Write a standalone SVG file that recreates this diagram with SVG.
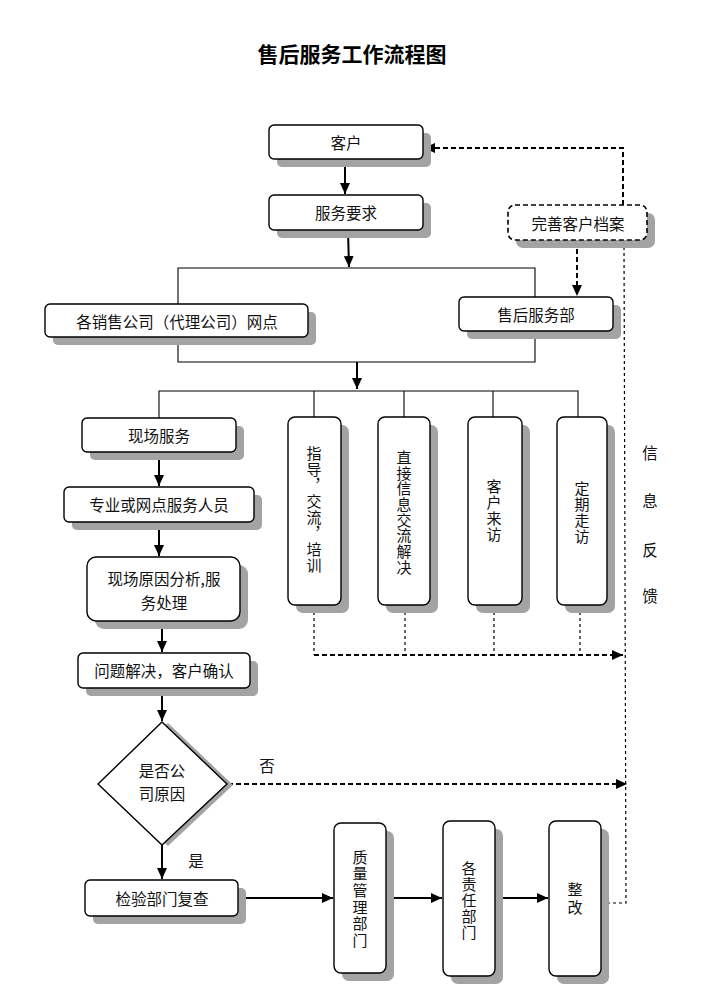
<svg xmlns="http://www.w3.org/2000/svg" width="725" height="1008" viewBox="0 0 725 1008">
<style>
  .bg{fill:#ffffff}
  .box{fill:#ffffff;stroke:#000;stroke-width:1.4}
  .dbox{fill:#ffffff;stroke:#000;stroke-width:1.6;stroke-dasharray:5 3}
  .sh{fill:#a3a3a3}
  .t{font-family:"Noto Sans CJK SC","Liberation Serif",serif;font-size:15.5px;fill:#111;text-anchor:middle;dominant-baseline:central}
  .tv{font-family:"Noto Sans CJK SC","Liberation Serif",serif;font-size:15px;fill:#111;text-anchor:middle;writing-mode:vertical-rl}
  .title{font-family:"Noto Sans CJK SC","Liberation Sans",sans-serif;font-size:21px;font-weight:bold;fill:#000;text-anchor:middle;dominant-baseline:central}
  .ln{fill:none;stroke:#000;stroke-width:1.1}
  .ar{fill:none;stroke:#000;stroke-width:2}
  .dt{fill:none;stroke:#000;stroke-width:2;stroke-dasharray:5 3}
  .dn{fill:none;stroke:#000;stroke-width:1.2;stroke-dasharray:3 3}
</style>
<defs>
  <marker id="ah" markerUnits="userSpaceOnUse" markerWidth="12" markerHeight="10" refX="11" refY="5" orient="auto">
    <path d="M0,0 L11,5 L0,10 Z" fill="#000"/>
  </marker>
</defs>
<rect class="bg" x="0" y="0" width="725" height="1008"/>
<text class="title" x="352" y="53">售后服务工作流程图</text>

<g id="connectors">
  <path class="ar" d="M345,159 V194" marker-end="url(#ah)"/>
  <path class="ar" d="M348,230 L349,267" marker-end="url(#ah)"/>
  <path class="ln" d="M178,304 V268 H535 V297"/>
  <path class="ln" d="M178,337 V362 H535 V331"/>
  <path class="ar" d="M357,362 V389" marker-end="url(#ah)"/>
  <path class="ln" d="M159,418 V391 H578 V417"/>
  <path class="ln" d="M314,391 V417 M404,391 V417 M493,391 V417"/>
  <path class="ar" d="M159,452 V486" marker-end="url(#ah)"/>
  <path class="ar" d="M159,522 V556" marker-end="url(#ah)"/>
  <path class="ar" d="M162,621 V652" marker-end="url(#ah)"/>
  <path class="ar" d="M162,688 V721" marker-end="url(#ah)"/>
  <path class="ar" d="M162,845 V879" marker-end="url(#ah)"/>
  <path class="ar" d="M238,898 H333" marker-end="url(#ah)"/>
  <path class="ar" d="M386,898 H442" marker-end="url(#ah)"/>
  <path class="ar" d="M495,898 H548" marker-end="url(#ah)"/>
  <path class="dt" d="M577,241 V296" marker-end="url(#ah)"/>
  <path class="dt" d="M623,205 V148 H424" marker-end="url(#ah)"/>
  <path class="dn" d="M624,241 L626,903 H601"/>
  <path class="dn" d="M314,606 V655 M405,606 V655 M494,606 V655 M580,606 V655"/>
  <path class="dt" d="M314,655 H623" marker-end="url(#ah)"/>
  <path class="dt" d="M228,784 H627" marker-end="url(#ah)"/>
</g>

<g id="kehu">
  <rect class="sh" x="277" y="133" width="154" height="34" rx="5"/>
  <rect class="box" x="269" y="125" width="154" height="34" rx="5"/>
  <text class="t" x="346" y="142">客户</text>
</g>
<g id="fuwuyaoqiu">
  <rect class="sh" x="277" y="203" width="154" height="35" rx="5"/>
  <rect class="box" x="269" y="195" width="154" height="35" rx="5"/>
  <text class="t" x="346" y="212">服务要求</text>
</g>
<g id="wanshan">
  <rect class="sh" x="516" y="213" width="139" height="35" rx="7"/>
  <rect class="dbox" x="508" y="205" width="139" height="35" rx="7"/>
  <text class="t" x="578" y="223">完善客户档案</text>
</g>
<g id="xiaoshou">
  <rect class="sh" x="53" y="312" width="263" height="33" rx="5"/>
  <rect class="box" x="45" y="304" width="263" height="33" rx="5"/>
  <text class="t" x="177" y="321">各销售公司（代理公司）网点</text>
</g>
<g id="shouhou">
  <rect class="sh" x="467" y="305" width="154" height="34" rx="5"/>
  <rect class="box" x="459" y="297" width="154" height="34" rx="5"/>
  <text class="t" x="536" y="314">售后服务部</text>
</g>
<g id="xianchang">
  <rect class="sh" x="90" y="426" width="154" height="34" rx="5"/>
  <rect class="box" x="82" y="418" width="154" height="34" rx="5"/>
  <text class="t" x="159" y="435">现场服务</text>
</g>
<g id="zhuanye">
  <rect class="sh" x="72" y="495" width="190" height="35" rx="5"/>
  <rect class="box" x="64" y="487" width="190" height="35" rx="5"/>
  <text class="t" x="159" y="504">专业或网点服务人员</text>
</g>
<g id="yuanyin">
  <rect class="sh" x="95" y="565" width="153" height="64" rx="9"/>
  <rect class="box" x="87" y="557" width="153" height="64" rx="9"/>
  <text class="t"><tspan x="164" y="578">现场原因分析,服</tspan><tspan x="164" y="602">务处理</tspan></text>
</g>
<g id="wenti">
  <rect class="sh" x="86" y="661" width="172" height="35" rx="5"/>
  <rect class="box" x="78" y="653" width="172" height="35" rx="5"/>
  <text class="t" x="164" y="670">问题解决，客户确认</text>
</g>
<g id="panduan">
  <path class="sh" d="M168,723 L233,785 L168,846 L103,785 Z"/>
  <path class="box" d="M162,722 L227,784 L162,845 L98,784 Z"/>
  <text class="t"><tspan x="162" y="770">是否公</tspan><tspan x="162" y="793">司原因</tspan></text>
</g>
<text class="t" x="267" y="765">否</text>
<text class="t" x="196" y="860">是</text>
<g id="jianyan">
  <rect class="sh" x="93" y="888" width="153" height="36" rx="5"/>
  <rect class="box" x="85" y="880" width="153" height="36" rx="5"/>
  <text class="t" x="162" y="898">检验部门复查</text>
</g>
<g id="zhidao">
  <rect class="sh" x="296" y="425" width="53" height="188" rx="7"/>
  <rect class="box" x="288" y="417" width="53" height="188" rx="7"/>
  <text class="tv" x="314" y="509.5" letter-spacing="1">指导，交流，培训</text>
</g>
<g id="zhijie">
  <rect class="sh" x="386" y="425" width="52" height="188" rx="7"/>
  <rect class="box" x="378" y="417" width="52" height="188" rx="7"/>
  <text class="tv" x="404" y="512.5" letter-spacing="0.7">直接信息交流解决</text>
</g>
<g id="kehulaifang">
  <rect class="sh" x="476" y="425" width="54" height="188" rx="7"/>
  <rect class="box" x="468" y="417" width="54" height="188" rx="7"/>
  <text class="tv" x="494" y="511" letter-spacing="1.3">客户来访</text>
</g>
<g id="dingqi">
  <rect class="sh" x="565" y="425" width="50" height="188" rx="7"/>
  <rect class="box" x="557" y="417" width="50" height="188" rx="7"/>
  <text class="tv" x="582" y="513" letter-spacing="1.3">定期走访</text>
</g>
<g id="xinxifankui">
  <text class="t" x="650" y="452">信</text>
  <text class="t" x="650" y="500">息</text>
  <text class="t" x="650" y="549">反</text>
  <text class="t" x="650" y="595">馈</text>
</g>
<g id="zhiliang">
  <rect class="sh" x="342" y="831" width="52" height="150" rx="7"/>
  <rect class="box" x="334" y="823" width="52" height="150" rx="7"/>
  <text class="tv" x="360" y="899.5" letter-spacing="1.6">质量管理部门</text>
</g>
<g id="zeren">
  <rect class="sh" x="451" y="829" width="52" height="155" rx="7"/>
  <rect class="box" x="443" y="821" width="52" height="155" rx="7"/>
  <text class="tv" x="469" y="901" letter-spacing="1.2">各责任部门</text>
</g>
<g id="zhenggai">
  <rect class="sh" x="557" y="829" width="52" height="155" rx="7"/>
  <rect class="box" x="549" y="821" width="52" height="155" rx="7"/>
  <text class="tv" x="575" y="899.5" letter-spacing="3">整改</text>
</g>
</svg>
